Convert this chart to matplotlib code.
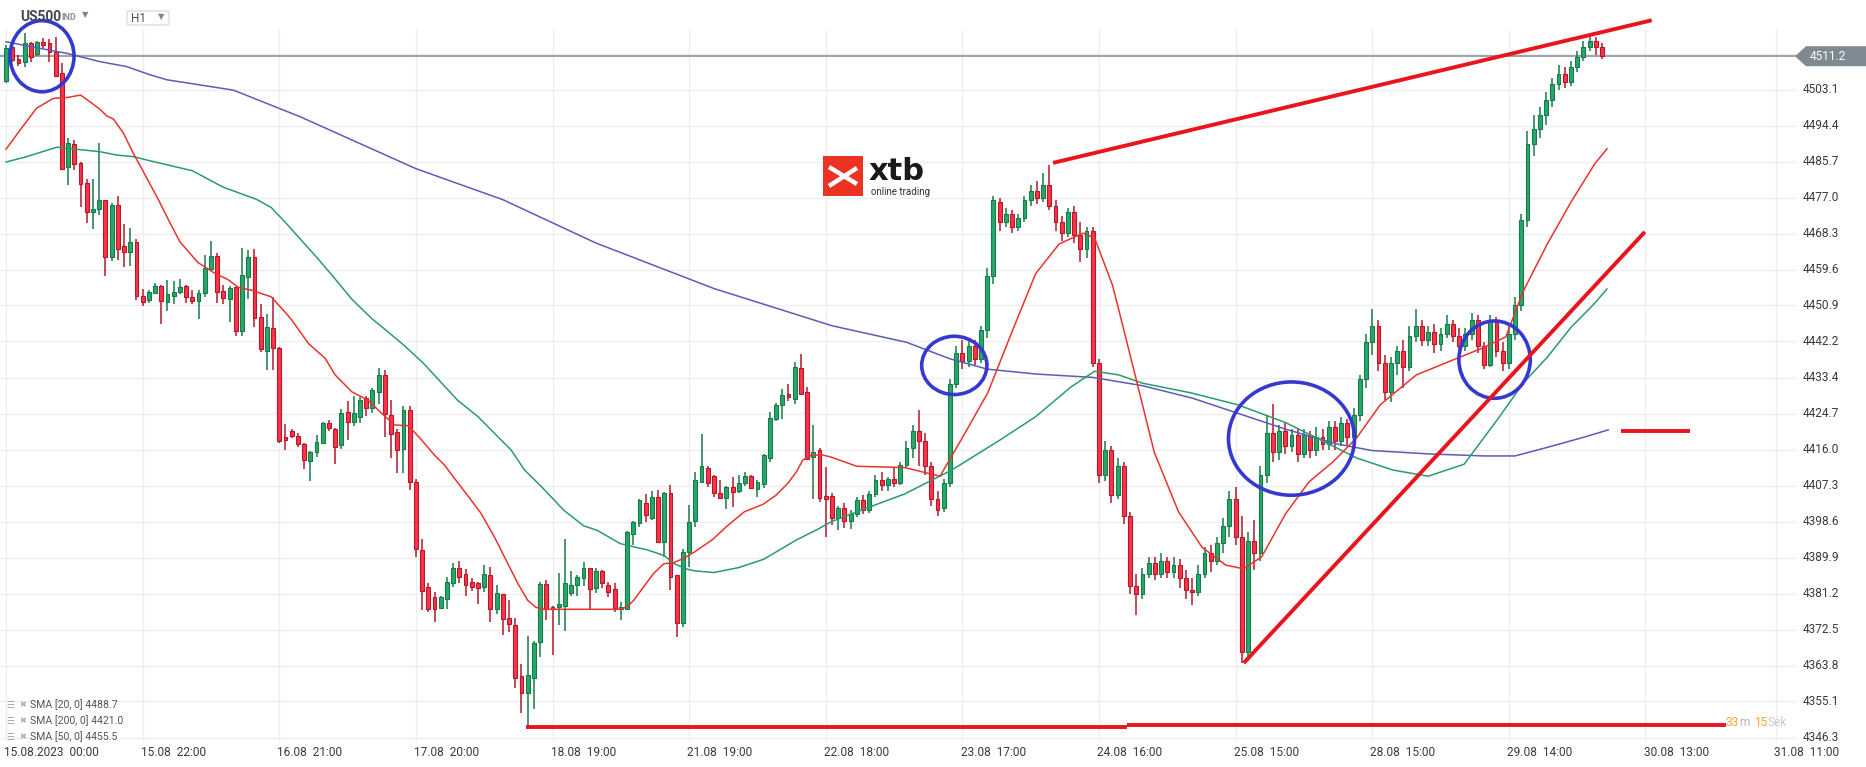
import matplotlib
matplotlib.use("Agg")
import matplotlib.pyplot as plt
import matplotlib.transforms as mtransforms
from matplotlib.patches import Ellipse, Rectangle, FancyBboxPatch, Polygon
from matplotlib.lines import Line2D
import numpy as np

plt.rcParams['font.family'] = ['Roboto', 'DejaVu Sans']

# H1 candles of US500, 15.08 00:00 .. 30.08 morning (one value per bar)
opens = [
    4505.1, 4513.4, 4510.5, 4509.8, 4514.3, 4511.7, 4514.6, 4514.3, 4512.3, 4507.1,
    4484.3, 4489.9, 4485.3, 4480.5, 4473.6, 4474.2, 4476.3, 4462.7, 4475.1, 4465.3,
    4463.9, 4466.2, 4453.2, 4452.2, 4454.0, 4455.5, 4451.7, 4453.3, 4454.1, 4455.5,
    4452.9, 4452.0, 4453.8, 4459.7, 4462.9, 4454.4, 4452.4, 4455.3, 4444.7, 4457.7,
    4462.6, 4448.2, 4439.8, 4445.4, 4440.5, 4419.0, 4420.6, 4419.4, 4417.4, 4413.2,
    4415.5, 4417.7, 4422.4, 4420.9, 4417.1, 4425.1, 4422.8, 4424.0, 4428.4, 4426.0,
    4430.0, 4434.0, 4424.3, 4420.4, 4416.1, 4425.5, 4408.1, 4391.7, 4382.7, 4380.3,
    4377.6, 4380.0, 4383.8, 4387.3, 4385.9, 4384.0, 4383.7, 4382.9, 4385.7, 4377.5,
    4381.0, 4375.2, 4373.5, 4361.2, 4357.1, 4360.9, 4369.4, 4383.5, 4377.9, 4377.9,
    4378.2, 4381.3, 4383.2, 4384.9, 4387.3, 4382.5, 4386.7, 4383.4, 4382.2, 4377.5,
    4377.4, 4395.5, 4398.2, 4403.0, 4399.6, 4404.6, 4393.7, 4405.6, 4385.6, 4374.0,
    4391.3, 4398.8, 4408.2, 4411.7, 4409.6, 4405.5, 4404.4, 4406.9, 4406.1, 4408.0,
    4409.6, 4406.4, 4407.7, 4413.9, 4423.4, 4426.8, 4429.5, 4428.3, 4435.7, 4429.9,
    4414.2, 4415.9, 4404.8, 4404.8, 4399.5, 4401.8, 4398.8, 4400.5, 4403.8, 4401.5,
    4405.2, 4408.7, 4407.5, 4409.0, 4408.0, 4412.3, 4416.5, 4420.5, 4418.0, 4412.0,
    4404.0, 4402.0, 4408.0, 4432.0, 4439.5, 4437.5, 4441.0, 4438.0, 4445.0, 4458.0,
    4476.0, 4471.0, 4473.0, 4470.0, 4472.0, 4476.5, 4478.5, 4477.0, 4480.0, 4475.0,
    4471.0, 4468.5, 4473.5, 4468.0, 4464.5, 4469.0, 4437.0, 4410.0, 4416.0, 4405.0,
    4412.0, 4400.0, 4383.0, 4381.0, 4386.0, 4388.5, 4386.0, 4389.0, 4386.5, 4388.0,
    4385.0, 4382.0, 4381.5, 4386.0, 4391.0, 4389.0, 4393.5, 4397.5, 4404.0, 4395.0,
    4367.0, 4394.0, 4391.0, 4410.0, 4420.0, 4415.5, 4420.5, 4417.0, 4419.5, 4415.0,
    4419.5, 4416.0, 4419.0, 4417.5, 4421.5, 4418.0, 4422.5, 4419.0, 4424.5, 4433.0,
    4442.0, 4446.0, 4437.0, 4430.0, 4437.0, 4440.0, 4436.0, 4443.5, 4446.0, 4442.5,
    4444.5, 4441.5, 4444.0, 4446.5, 4443.5, 4441.0, 4444.0, 4447.5, 4441.0, 4436.5,
    4447.0, 4440.0, 4437.0, 4444.0, 4451.0, 4471.5, 4490.0, 4493.5, 4497.0, 4500.5,
    4504.5, 4507.0, 4505.0, 4508.5, 4511.0, 4513.5, 4515.0, 4513.5,
]
highs = [
    4513.9, 4513.5, 4511.5, 4516.9, 4514.7, 4515.0, 4515.5, 4515.3, 4515.8, 4509.5,
    4491.4, 4490.9, 4485.5, 4481.5, 4481.4, 4490.1, 4476.3, 4475.6, 4477.4, 4470.6,
    4469.6, 4466.9, 4454.9, 4454.6, 4456.3, 4455.8, 4457.1, 4456.9, 4457.2, 4455.8,
    4454.6, 4454.6, 4463.0, 4466.5, 4463.7, 4455.8, 4455.5, 4455.3, 4464.7, 4464.3,
    4464.6, 4451.2, 4448.8, 4453.0, 4440.8, 4422.3, 4421.0, 4420.0, 4417.6, 4415.7,
    4419.6, 4422.6, 4423.2, 4421.2, 4425.8, 4427.8, 4429.0, 4428.8, 4429.0, 4430.9,
    4435.8, 4435.4, 4428.0, 4420.9, 4426.6, 4426.6, 4408.9, 4394.3, 4383.7, 4381.5,
    4380.6, 4385.3, 4388.5, 4389.1, 4387.1, 4384.9, 4383.9, 4388.0, 4387.7, 4383.3,
    4381.2, 4379.6, 4375.2, 4364.1, 4370.9, 4369.8, 4384.1, 4384.5, 4378.2, 4386.2,
    4394.4, 4386.6, 4385.7, 4388.8, 4387.5, 4387.5, 4386.9, 4384.1, 4383.7, 4379.2,
    4396.3, 4398.8, 4404.1, 4405.4, 4406.0, 4406.3, 4405.8, 4407.5, 4385.8, 4392.1,
    4402.6, 4410.7, 4419.8, 4412.0, 4409.8, 4408.8, 4407.3, 4409.5, 4409.9, 4410.5,
    4409.8, 4408.8, 4414.9, 4425.2, 4427.2, 4430.6, 4431.9, 4437.3, 4439.2, 4431.3,
    4422.0, 4416.5, 4411.9, 4405.5, 4402.5, 4403.0, 4401.5, 4404.5, 4405.0, 4406.0,
    4409.8, 4410.5, 4409.5, 4411.5, 4413.0, 4418.0, 4422.0, 4425.5, 4420.0, 4413.0,
    4406.0, 4409.0, 4433.0, 4441.0, 4442.5, 4443.0, 4442.5, 4446.0, 4460.0, 4477.5,
    4477.0, 4474.5, 4474.0, 4473.0, 4477.5, 4480.0, 4481.0, 4483.0, 4485.0, 4476.5,
    4472.5, 4474.5, 4475.0, 4471.0, 4470.0, 4470.0, 4438.0, 4418.0, 4417.0, 4414.0,
    4413.0, 4401.0, 4386.0, 4387.5, 4390.0, 4390.0, 4391.0, 4390.0, 4390.0, 4389.5,
    4387.0, 4385.0, 4388.0, 4392.5, 4393.0, 4395.0, 4399.5, 4406.0, 4407.0, 4400.0,
    4396.0, 4399.0, 4412.0, 4424.5, 4427.0, 4422.0, 4422.5, 4421.0, 4421.0, 4421.0,
    4420.5, 4421.5, 4421.0, 4423.0, 4423.0, 4424.0, 4423.5, 4426.0, 4434.0, 4444.0,
    4450.0, 4447.5, 4439.0, 4438.5, 4441.0, 4442.5, 4446.0, 4450.0, 4447.5, 4446.0,
    4446.5, 4445.5, 4448.5, 4447.5, 4445.5, 4445.5, 4449.0, 4448.5, 4442.0, 4448.5,
    4448.0, 4442.0, 4446.0, 4453.0, 4473.0, 4493.0, 4497.0, 4499.0, 4502.5, 4506.0,
    4509.0, 4508.5, 4510.0, 4512.5, 4515.0, 4516.0, 4515.8, 4514.5,
]
lows = [
    4504.7, 4509.9, 4508.9, 4508.7, 4509.9, 4511.3, 4513.1, 4509.7, 4506.4, 4483.9,
    4480.1, 4483.7, 4474.7, 4470.9, 4469.3, 4472.8, 4458.0, 4461.7, 4461.9, 4460.1,
    4460.4, 4452.2, 4450.7, 4451.6, 4453.7, 4446.3, 4449.6, 4451.2, 4453.7, 4451.4,
    4451.2, 4447.6, 4453.0, 4459.3, 4451.6, 4451.2, 4447.0, 4443.6, 4443.6, 4452.4,
    4445.6, 4439.7, 4435.2, 4435.2, 4417.7, 4416.0, 4418.8, 4416.6, 4411.4, 4408.4,
    4414.2, 4417.4, 4420.6, 4412.5, 4416.3, 4418.4, 4421.8, 4422.5, 4424.2, 4425.0,
    4427.1, 4419.0, 4414.1, 4410.3, 4410.3, 4406.3, 4390.0, 4377.2, 4376.8, 4374.4,
    4377.4, 4377.4, 4382.9, 4383.8, 4380.7, 4381.9, 4378.7, 4381.6, 4374.4, 4376.3,
    4371.3, 4372.0, 4358.3, 4352.2, 4349.4, 4353.4, 4365.9, 4374.8, 4366.3, 4373.6,
    4372.2, 4380.7, 4380.7, 4383.1, 4377.5, 4381.4, 4382.5, 4380.4, 4376.7, 4374.8,
    4377.2, 4393.0, 4397.2, 4398.6, 4399.0, 4393.5, 4390.1, 4382.1, 4370.8, 4373.2,
    4387.7, 4397.2, 4408.0, 4407.1, 4404.6, 4404.1, 4401.6, 4402.2, 4405.6, 4407.3,
    4406.5, 4404.6, 4406.7, 4413.1, 4423.0, 4423.4, 4427.9, 4427.1, 4429.5, 4413.5,
    4404.2, 4403.4, 4395.0, 4397.8, 4396.5, 4397.0, 4396.8, 4399.8, 4400.5, 4400.8,
    4404.5, 4406.0, 4406.0, 4407.0, 4407.5, 4411.5, 4414.0, 4412.0, 4410.0, 4402.5,
    4400.0, 4401.0, 4407.0, 4431.0, 4435.5, 4436.0, 4436.5, 4437.0, 4443.0, 4456.0,
    4469.0, 4470.0, 4468.5, 4469.0, 4471.0, 4475.0, 4475.5, 4476.0, 4474.0, 4469.0,
    4466.5, 4467.5, 4466.0, 4461.5, 4462.5, 4436.0, 4408.0, 4408.5, 4403.0, 4404.0,
    4398.0, 4381.0, 4376.0, 4380.0, 4385.0, 4384.5, 4385.0, 4385.0, 4385.0, 4382.5,
    4380.0, 4378.5, 4380.5, 4385.0, 4386.5, 4388.0, 4391.0, 4395.0, 4393.0, 4364.5,
    4365.0, 4387.0, 4389.0, 4408.0, 4413.0, 4413.5, 4415.0, 4415.5, 4413.0, 4414.0,
    4414.0, 4414.5, 4416.0, 4416.0, 4416.0, 4417.0, 4417.0, 4418.0, 4423.0, 4431.0,
    4439.0, 4435.0, 4428.0, 4427.5, 4434.0, 4431.0, 4435.0, 4442.0, 4441.0, 4441.0,
    4439.5, 4440.0, 4443.0, 4442.0, 4439.5, 4440.0, 4442.5, 4439.5, 4435.5, 4436.0,
    4438.5, 4435.0, 4435.5, 4442.5, 4449.5, 4470.0, 4487.0, 4491.5, 4494.5, 4499.0,
    4503.0, 4503.5, 4504.0, 4507.5, 4510.0, 4512.5, 4511.5, 4510.5,
]
closes = [
    4513.1, 4510.3, 4509.5, 4514.3, 4511.1, 4514.7, 4513.9, 4512.1, 4506.4, 4483.9,
    4490.1, 4485.1, 4480.2, 4473.4, 4474.2, 4476.3, 4462.7, 4475.1, 4464.5, 4463.9,
    4466.2, 4453.2, 4451.8, 4454.1, 4455.5, 4451.9, 4453.6, 4454.1, 4455.3, 4452.9,
    4452.0, 4453.8, 4459.9, 4462.9, 4454.1, 4452.6, 4455.1, 4444.7, 4458.3, 4462.6,
    4447.9, 4440.3, 4445.6, 4440.5, 4418.2, 4418.4, 4419.4, 4417.4, 4413.4, 4415.5,
    4417.9, 4422.4, 4421.2, 4416.7, 4424.8, 4422.8, 4424.8, 4428.0, 4426.0, 4430.4,
    4434.2, 4424.6, 4419.8, 4416.0, 4425.5, 4408.1, 4391.9, 4381.8, 4377.4, 4377.4,
    4380.4, 4383.9, 4387.5, 4385.3, 4383.4, 4382.9, 4382.6, 4385.9, 4377.5, 4381.3,
    4375.0, 4373.8, 4360.9, 4357.1, 4361.4, 4369.2, 4383.5, 4377.4, 4377.4, 4378.7,
    4383.7, 4383.4, 4385.3, 4387.5, 4382.2, 4386.7, 4383.7, 4381.5, 4377.6, 4377.9,
    4396.0, 4398.6, 4403.8, 4400.1, 4404.6, 4393.7, 4405.6, 4385.3, 4374.1, 4391.3,
    4398.6, 4408.8, 4412.1, 4408.0, 4405.5, 4404.4, 4407.1, 4405.8, 4407.9, 4409.6,
    4406.8, 4408.1, 4414.7, 4423.6, 4426.8, 4429.2, 4428.8, 4436.0, 4429.6, 4413.7,
    4415.4, 4404.4, 4404.2, 4399.5, 4401.8, 4398.8, 4400.5, 4403.8, 4401.5, 4405.2,
    4408.7, 4407.5, 4409.0, 4408.0, 4412.3, 4416.5, 4420.5, 4418.0, 4412.0, 4404.0,
    4401.5, 4408.0, 4432.0, 4439.5, 4437.5, 4441.0, 4438.0, 4445.0, 4458.0, 4476.5,
    4471.0, 4473.0, 4470.0, 4472.0, 4476.5, 4478.5, 4477.0, 4480.0, 4475.0, 4471.0,
    4468.5, 4473.5, 4468.0, 4464.5, 4469.0, 4437.0, 4410.0, 4416.0, 4405.0, 4412.0,
    4400.0, 4383.0, 4381.0, 4386.0, 4388.5, 4386.0, 4389.0, 4386.5, 4388.0, 4385.0,
    4382.0, 4381.5, 4386.0, 4391.0, 4389.0, 4393.5, 4397.5, 4404.0, 4395.0, 4367.0,
    4394.0, 4391.0, 4410.0, 4420.0, 4415.5, 4420.5, 4417.0, 4419.5, 4415.0, 4419.5,
    4416.0, 4419.0, 4417.5, 4421.5, 4418.0, 4422.5, 4419.0, 4424.5, 4433.0, 4442.0,
    4446.0, 4437.0, 4430.0, 4437.0, 4440.0, 4436.0, 4443.5, 4446.0, 4442.5, 4444.5,
    4441.5, 4444.0, 4446.5, 4443.5, 4441.0, 4444.0, 4447.5, 4441.0, 4436.5, 4447.0,
    4440.0, 4437.0, 4444.0, 4451.0, 4471.5, 4490.0, 4493.5, 4497.0, 4500.5, 4504.5,
    4507.0, 4505.0, 4508.5, 4511.0, 4513.5, 4515.0, 4513.5, 4511.2,
]

# moving averages (bar index, value)
sma20_bars = [0, 2.25, 4.9, 7.6, 9.8, 12, 13.5, 15.1, 16.2, 17.3, 18.9, 20.5, 22.1, 24.5, 26.1,
              28, 30.9, 33.6, 35.7, 37.4, 39.5, 42.7, 45.1, 46, 48.7, 51.4, 53, 55.7, 58.3, 60.5,
              62.6, 64.8, 66.9, 69, 70.6, 72.2, 74.3, 76.5, 78.6, 80.8, 82.4, 84, 85.3, 86.7, 88.8,
              98.9, 100, 101.1, 102.7, 104.3, 105.9, 107.5, 109.1, 110.9, 113.8, 116, 118.9, 121.9,
              124, 125.9, 127.3, 128.3, 129.7, 131.6, 132.9, 137, 144.7, 150.4, 154.3, 158.1, 161.9,
              165.8, 169.6, 173.4, 175.3, 178.2, 181.1, 184.9, 188.8, 192.6, 196.4, 199.3, 202.2,
              206, 209.8, 213.7, 217.5, 221.3, 227.1, 232.8, 237.6, 241.5, 244.3, 248.2, 252,
              255.8, 257.8]
sma20_vals = [4488.7, 4493.3, 4498.6, 4501.0, 4501.2, 4501.8, 4500.2, 4498.4, 4496.8, 4496.0,
              4492.6, 4487.7, 4483.3, 4476.6, 4471.8, 4466.3, 4461.3, 4458.7, 4457.2, 4455.3,
              4454.6, 4453.0, 4449.0, 4447.4, 4441.7, 4438.1, 4434.1, 4430.0, 4428.0, 4424.8,
              4422.0, 4421.8, 4418.4, 4414.7, 4412.3, 4409.1, 4405.0, 4400.6, 4395.0, 4388.5,
              4383.7, 4379.6, 4377.9, 4377.4, 4377.4, 4377.4, 4378.0, 4379.6, 4382.9, 4386.1,
              4388.4, 4388.7, 4389.7, 4391.3, 4394.3, 4397.4, 4401.0, 4402.8, 4405.0, 4407.9,
              4410.7, 4413.5, 4414.7, 4414.7, 4414.2, 4412.0, 4411.7, 4409.6, 4419.7, 4429.8,
              4444.2, 4458.6, 4465.8, 4468.4, 4467.2, 4455.7, 4438.4, 4415.4, 4401.0, 4392.4,
              4388.1, 4387.2, 4390.1, 4400.4, 4408.2, 4413.1, 4418.9, 4426.9, 4434.1, 4437.6,
              4440.5, 4443.3, 4454.3, 4465.8, 4475.9, 4485.1, 4488.8]
sma50_bars = [0, 3.3, 8.2, 12.5, 15.1, 17.8, 20.5, 23.2, 30, 35, 40.3, 42.7, 45.1, 50.3, 53,
              55.7, 59, 61.6, 63.9, 67.1, 72.7, 76, 79.7, 81.3, 83.5, 86.2, 89.8, 93, 95.2, 98.9,
              101.1, 103.2, 106, 107.5, 109.7, 110.9, 114, 118, 122, 127.3, 130.5, 132.9, 137,
              144.7, 152.3, 160, 165.8, 171.5, 175.3, 179.2, 183, 190.7, 198.3, 206, 211.8, 217.5,
              223.3, 229, 234.8, 240.5, 244.3, 248.2, 252, 255.8, 257.8]
sma50_vals = [4485.6, 4486.9, 4489.2, 4488.5, 4488.1, 4487.3, 4486.9, 4485.9, 4483.5, 4479.5,
              4476.6, 4474.6, 4470.8, 4462.1, 4457.3, 4452.4, 4447.6, 4444.4, 4441.5, 4437.1,
              4428.0, 4424.0, 4418.4, 4416.0, 4411.1, 4407.1, 4401.4, 4397.6, 4396.5, 4393.3,
              4392.5, 4391.8, 4390.4, 4388.5, 4387.1, 4386.7, 4386.3, 4387.5, 4389.5, 4394.2,
              4396.6, 4398.6, 4401.0, 4405.3, 4411.1, 4418.3, 4424.0, 4431.2, 4435.0, 4434.1,
              4432.1, 4429.8, 4426.9, 4422.6, 4418.3, 4414.0, 4411.1, 4409.6, 4412.5, 4424.0,
              4432.1, 4438.4, 4445.6, 4451.4, 4454.9]
sma200_bars = [0, 4.4, 9.8, 15.1, 19.4, 23.2, 25.9, 36.6, 47.3, 66, 80, 95, 114, 133, 145,
               152, 158, 166, 175, 183, 191, 198, 206, 214, 220, 229, 238, 243, 248, 254, 258]
sma200_vals = [4514.7, 4513.4, 4511.9, 4509.9, 4508.7, 4506.7, 4505.5, 4503.0, 4496.6, 4484.0,
               4476.5, 4466.0, 4455.0, 4446.0, 4442.0, 4438.0, 4435.5, 4434.3, 4433.5, 4431.5,
               4428.5, 4425.0, 4421.0, 4417.5, 4415.8, 4415.0, 4414.5, 4414.5, 4416.5, 4419.0,
               4420.8]

# axis labels
x_tick_bars = [0, 22, 44, 66, 88, 110, 132, 154, 176, 198, 220, 242, 264, 285]
x_tick_labels = ["15.08.2023  00:00", "15.08  22:00", "16.08  21:00", "17.08  20:00",
                 "18.08  19:00", "21.08  19:00", "22.08  18:00", "23.08  17:00",
                 "24.08  16:00", "25.08  15:00", "28.08  15:00", "29.08  14:00",
                 "30.08  13:00", "31.08  11:00"]
y_ticks = [4346.3, 4355.1, 4363.8, 4372.5, 4381.2, 4389.9, 4398.6, 4407.3, 4416.0, 4424.7,
           4433.4, 4442.2, 4450.9, 4459.6, 4468.3, 4477.0, 4485.7, 4494.4, 4503.1, 4511.8]
last_price = 4511.2
legend_rows = ["SMA [20, 0] 4488.7", "SMA [200, 0] 4421.0", "SMA [50, 0] 4455.5"]

# hand-drawn annotations (bar index, price)
circle_x = [5.8, 152.7, 207.0, 239.7]
circle_y = [4511.2, 4436.4, 4418.7, 4437.8]
circle_w = [10.3, 10.5, 20.3, 11.5]
circle_h = [17.2, 14.1, 27.4, 18.7]
resist_x, resist_y = [168.6, 265.0], [4485.4, 4519.9]
trend_x, trend_y = [199.3, 263.9], [4364.4, 4468.7]
floor1_x, floor1_y = [83.7, 180.5], [4348.9, 4348.9]
floor2_x, floor2_y = [180.5, 276.9], [4349.5, 4349.5]
mark_x, mark_y = [260.1, 271.2], [4420.6, 4420.6]

W, H = 1866, 767
UP_FILL, UP_EDGE = '#27a86b', '#177a49'
DN_FILL, DN_EDGE = '#ff3346', '#b4172b'


def fx(px):
    return px / W


def fy(py):
    return 1 - py / H


fig = plt.figure(figsize=(W / 100, H / 100), dpi=100)
fig.patch.set_facecolor('white')
ax = fig.add_axes([0, 25 / H, 1797 / W, 742 / H])
ax.set_xlim(-0.97, 288.4)
ax.set_ylim(4345.3, 4524.8)
ax.axis('off')

# grid
for yt in y_ticks:
    ax.axhline(yt, color='#eeeeee', lw=1, zorder=0)
for xt in x_tick_bars:
    ax.plot([xt, xt], [4345.3, 4517.6], color='#eeeeee', lw=1, zorder=0)

# candles
o = np.array(opens)
h = np.array(highs)
l = np.array(lows)
c = np.array(closes)
x = np.arange(len(c))
up = c >= o
body = np.maximum(np.abs(c - o), 0.3)
bottom = np.minimum(o, c)
for mask, fill, edge in [(up, UP_FILL, UP_EDGE), (~up, DN_FILL, DN_EDGE)]:
    ax.vlines(x[mask], l[mask], h[mask], color=edge, lw=1.1, zorder=2)
    ax.bar(x[mask], body[mask], bottom=bottom[mask], width=0.62, color=fill,
           edgecolor=edge, linewidth=0.8, zorder=2)

# moving averages
ax.plot(sma200_bars, sma200_vals, color='#5b5db6', lw=1.1, zorder=3)
ax.plot(sma50_bars, sma50_vals, color='#2a9b6f', lw=1.1, zorder=3)
ax.plot(sma20_bars, sma20_vals, color='#e8342f', lw=1.1, zorder=3)

# last price line
ax.axhline(last_price, color='#8b949c', lw=1.2, zorder=1)

# annotations
for cx, cy, cw, ch in zip(circle_x, circle_y, circle_w, circle_h):
    ax.add_patch(Ellipse((cx, cy), cw, ch, fill=False, ec='#3639cf', lw=2.6, zorder=4))
for lx, ly in [(resist_x, resist_y), (trend_x, trend_y), (floor1_x, floor1_y),
               (floor2_x, floor2_y), (mark_x, mark_y)]:
    ax.plot(lx, ly, color='#e8141e', lw=2.8, solid_capstyle='butt', zorder=4)

# x tick labels
xtr = mtransforms.blended_transform_factory(ax.transData, fig.transFigure)
for xb, lab in zip(x_tick_bars, x_tick_labels):
    ax.text(xb - 0.3, fy(752), lab, transform=xtr, ha='left', va='center',
            fontsize=8.6, color='#3a3a3a', clip_on=False)

# y tick labels
ytr = mtransforms.blended_transform_factory(fig.transFigure, ax.transData)
for yt in y_ticks[:-1]:
    fig.text(fx(1803), yt, f"{yt:.1f}", transform=ytr, ha='left', va='center',
             fontsize=8.6, color='#3a3a3a')

# last price tag
tag_h = 10 * (4524.8 - 4345.3) / 742
fig.patches.append(Polygon([(fx(1795), last_price), (fx(1806), last_price + tag_h),
                            (fx(1866), last_price + tag_h), (fx(1866), last_price - tag_h),
                            (fx(1806), last_price - tag_h)],
                           closed=True, transform=ytr, fc='#7f8991', ec='none'))
fig.text(fx(1810), last_price, f"{last_price:.1f}", transform=ytr, ha='left', va='center',
         fontsize=8.6, color='white')

# legend of indicators
for i, row in enumerate(legend_rows):
    yy = fy(705 + 16 * i)
    fig.text(fx(6), yy, '\u2630', fontsize=6.5, color='#a0a0a0', va='center',
             family=['DejaVu Sans'])
    fig.text(fx(19), yy, '\u2716', fontsize=6, color='#b0b0b0', va='center',
             family=['DejaVu Sans'])
    fig.text(fx(30), yy, row, fontsize=7.6, color='#555555', va='center')

# countdown
fig.text(fx(1725), fy(723), '33', fontsize=8.6, color='#f5a623', va='center')
fig.text(fx(1739), fy(723), 'm', fontsize=8.6, color='#b5b5b5', va='center')
fig.text(fx(1754), fy(723), '15', fontsize=8.6, color='#f5a623', va='center')
fig.text(fx(1768), fy(723), 'Sek', fontsize=8.6, color='#c8c8c8', va='center')

# header
fig.text(fx(20), fy(17), 'US500', fontsize=10, fontweight='bold', color='#3e4751', va='center')
fig.text(fx(61), fy(18), 'IND', fontsize=6.5, fontweight='bold', color='#8c9298', va='center')
fig.text(fx(82), fy(15), '\u25bc', fontsize=6, color='#7d848a', va='center',
         family=['DejaVu Sans'])
fig.patches.append(FancyBboxPatch((fx(127), fy(25)), fx(42), 14 / H,
                                  boxstyle='round,pad=0,rounding_size=0.002',
                                  transform=fig.transFigure, fc='white', ec='#d5d5d5', lw=0.8))
fig.text(fx(131), fy(18.5), 'H1', fontsize=8.5, color='#4a5058', va='center')
fig.text(fx(158), fy(17), '\u25bc', fontsize=6, color='#7d848a', va='center',
         family=['DejaVu Sans'])

# xtb logo
fig.patches.append(Rectangle((fx(823), fy(196)), fx(40), 40 / H, transform=fig.transFigure,
                             fc='#ec3223', ec='none'))
fig.lines.append(Line2D([fx(829), fx(857)], [fy(167), fy(184)], transform=fig.transFigure,
                        color='white', lw=3.2, solid_capstyle='butt'))
fig.lines.append(Line2D([fx(829), fx(857)], [fy(186), fy(168)], transform=fig.transFigure,
                        color='white', lw=3.2, solid_capstyle='butt'))
fig.text(fx(869), fy(172), 'xtb', fontsize=22, fontweight='bold', color='#1a1a1a',
         va='center', family=['DejaVu Sans'])
fig.text(fx(871), fy(192), 'online trading', fontsize=7, color='#333333', va='center')

fig.savefig('out.png', dpi=100, facecolor='white')
